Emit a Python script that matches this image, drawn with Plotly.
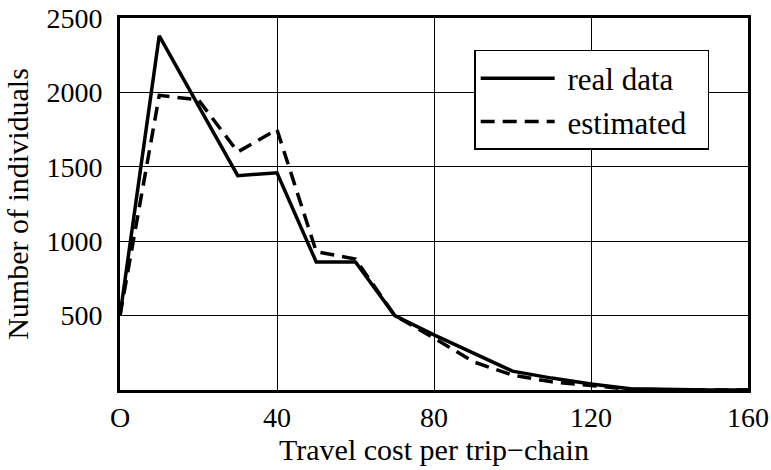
import plotly.graph_objects as go

# travel cost per trip-chain
cost = [0, 10, 20, 30, 40, 50, 60, 70, 80, 90, 100, 110, 120, 130, 140, 150, 160]
# number of individuals
real_data = [500, 2380, 1910, 1440, 1460, 860, 860, 500, 370, 250, 127, 80, 40, 8, 2, 0, 0]
estimated = [500, 1980, 1950, 1600, 1750, 930, 880, 500, 350, 190, 100, 55, 30, 5, 0, 0, 0]

x_ticks = [0, 40, 80, 120, 160]
x_ticktext = ["O", "40", "80", "120", "160"]
y_ticks = [500, 1000, 1500, 2000, 2500]

serif = "Liberation Serif, Times New Roman, serif"

fig = go.Figure()
fig.add_trace(go.Scatter(x=cost, y=real_data, mode="lines", name="\u00a0real data  ",
                         legendgroup="a",
                         line=dict(color="black", width=3.5)))
fig.add_trace(go.Scatter(x=cost, y=estimated, mode="lines", name="\u00a0estimated  ",
                         legendgroup="b",
                         line=dict(color="black", width=3.5, dash="14px,8px")))

fig.update_layout(
    width=771,
    height=470,
    margin=dict(l=120, r=23, t=18, b=78),
    paper_bgcolor="white",
    plot_bgcolor="white",
    font=dict(family=serif, size=28, color="black"),
    legend=dict(
        x=0.564, y=0.914, xanchor="left", yanchor="top",
        bgcolor="white", bordercolor="black", borderwidth=1.5,
        font=dict(family=serif, size=31),
        tracegroupgap=0, itemwidth=74,
    ),
    xaxis=dict(
        range=[0, 160], tickvals=x_ticks, ticktext=x_ticktext,
        showgrid=True, gridcolor="black", gridwidth=1,
        showline=True, linecolor="black", linewidth=3, mirror=True,
        zeroline=False, ticks="", tickfont=dict(size=28),
        automargin="bottom",
        title=dict(text="Travel cost per trip\u2212chain", font=dict(size=30), standoff=4),
    ),
    yaxis=dict(
        range=[0, 2500], tickvals=y_ticks,
        showgrid=True, gridcolor="black", gridwidth=1,
        showline=True, linecolor="black", linewidth=3, mirror=True,
        zeroline=False, ticks="", tickfont=dict(size=28), ticklabelstandoff=9,
        automargin="left",
        title=dict(text="Number of individuals", font=dict(size=30), standoff=9),
    ),
)

# drop the page's default body margin so the figure sits at the window corner
fig.write_html(
    "out.html",
    config={"displayModeBar": False},
    post_script="document.body.style.margin='0';document.body.style.overflow='hidden';",
)
